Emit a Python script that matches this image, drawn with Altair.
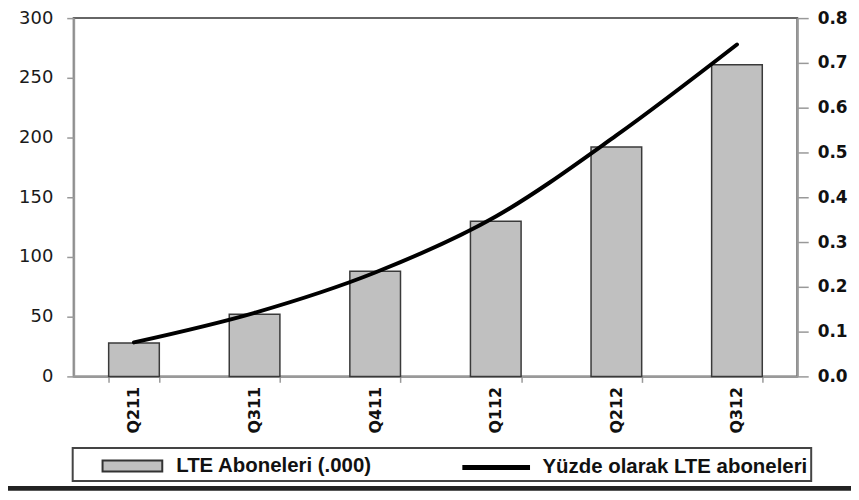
import altair as alt
import pandas as pd

quarters = ["Q211", "Q311", "Q411", "Q112", "Q212", "Q312"]
subscribers = [28, 52, 88, 130, 192, 261]
share = [0.076, 0.142, 0.232, 0.357, 0.538, 0.741]
bar_name = "LTE Aboneleri (.000)"
line_name = "Yüzde olarak LTE aboneleri"
left_ticks = [0, 50, 100, 150, 200, 250, 300]
right_ticks = [0.0, 0.1, 0.2, 0.3, 0.4, 0.5, 0.6, 0.7, 0.8]

df = pd.DataFrame({
    "quarter": quarters,
    "subs": subscribers,
    "share": share,
    "bar_series": [bar_name] * len(quarters),
    "line_series": [line_name] * len(quarters),
})

x_enc = alt.X(
    "quarter:N", sort=quarters, title=None,
    scale=alt.Scale(paddingInner=0.58, paddingOuter=0.29),
    axis=alt.Axis(labelAngle=270, tickBand="extent", tickSize=6, tickColor="#999",
                  tickWidth=1.5, domainColor="#999", domainWidth=2,
                  labelFont="DejaVu Sans", labelFontWeight="bold", labelFontSize=16,
                  labelColor="#111", labelPadding=4),
)

bars = alt.Chart(df).mark_bar(stroke="#3a3a3a", strokeWidth=1.5).encode(
    x=x_enc,
    y=alt.Y("subs:Q", title=None, scale=alt.Scale(domain=[0, 300], nice=False),
            axis=alt.Axis(orient="left", values=left_ticks, grid=False, tickSize=7,
                          tickColor="#999", tickWidth=1.5, domainColor="#999", domainWidth=2,
                          labelFont="DejaVu Sans", labelFontSize=18, labelColor="#1a1a1a",
                          labelPadding=14)),
    fill=alt.Fill("bar_series:N",
                  scale=alt.Scale(domain=[bar_name], range=["#c0c0c0"]),
                  legend=alt.Legend(orient="none", legendX=28, legendY=419, title=None,
                                    symbolType="M-1,-0.183H1V0.183H-1Z", symbolSize=3600,
                                    symbolStrokeColor="#333", symbolStrokeWidth=2,
                                    labelFont="Liberation Sans", labelFontWeight="bold",
                                    labelFontSize=20.5, labelColor="#111", labelOffset=13,
                                    labelLimit=0, padding=0)),
)

line = alt.Chart(df).mark_line(interpolate="monotone", strokeWidth=4, strokeCap="round").encode(
    x=x_enc,
    y=alt.Y("share:Q", title=None, scale=alt.Scale(domain=[0, 0.8], nice=False),
            axis=alt.Axis(orient="right", values=right_ticks, format=".1f", grid=False,
                          tickSize=11, tickColor="#999", tickWidth=1.5, domainColor="#999",
                          domainWidth=2, labelFont="DejaVu Sans", labelFontWeight="bold",
                          labelFontSize=17, labelColor="#111", labelPadding=9)),
    stroke=alt.Stroke("line_series:N",
                      scale=alt.Scale(domain=[line_name], range=["#000000"]),
                      legend=alt.Legend(orient="none", legendX=388, legendY=415, title=None,
                                        symbolType="stroke", symbolSize=4624,
                                        symbolStrokeWidth=5,
                                        labelFont="Liberation Sans", labelFontWeight="bold",
                                        labelFontSize=20.5, labelColor="#111", labelOffset=10,
                                        labelLimit=0, padding=0)),
)

deco = pd.DataFrame({"k": [0]})
legend_box = alt.Chart(deco).mark_rect(fillOpacity=0, stroke="#444", strokeWidth=2).encode(
    x=alt.value(-1), x2=alt.value(741), y=alt.value(432), y2=alt.value(465)
)
bottom_band = alt.Chart(deco).mark_rect(color="#222").encode(
    x=alt.value(-66), x2=alt.value(781), y=alt.value(470), y2=alt.value(475)
)

chart = alt.layer(bars, line, legend_box, bottom_band).resolve_scale(
    y="independent", fill="independent", stroke="independent"
).properties(
    width=727, height=360,
    autosize=alt.AutoSizeParams(type="none"),
    padding={"left": 66, "top": 9, "right": 54, "bottom": 115},
).configure_view(stroke="#666", strokeWidth=2)

chart.save("out.html", embed_options={"renderer": "svg", "actions": False})
